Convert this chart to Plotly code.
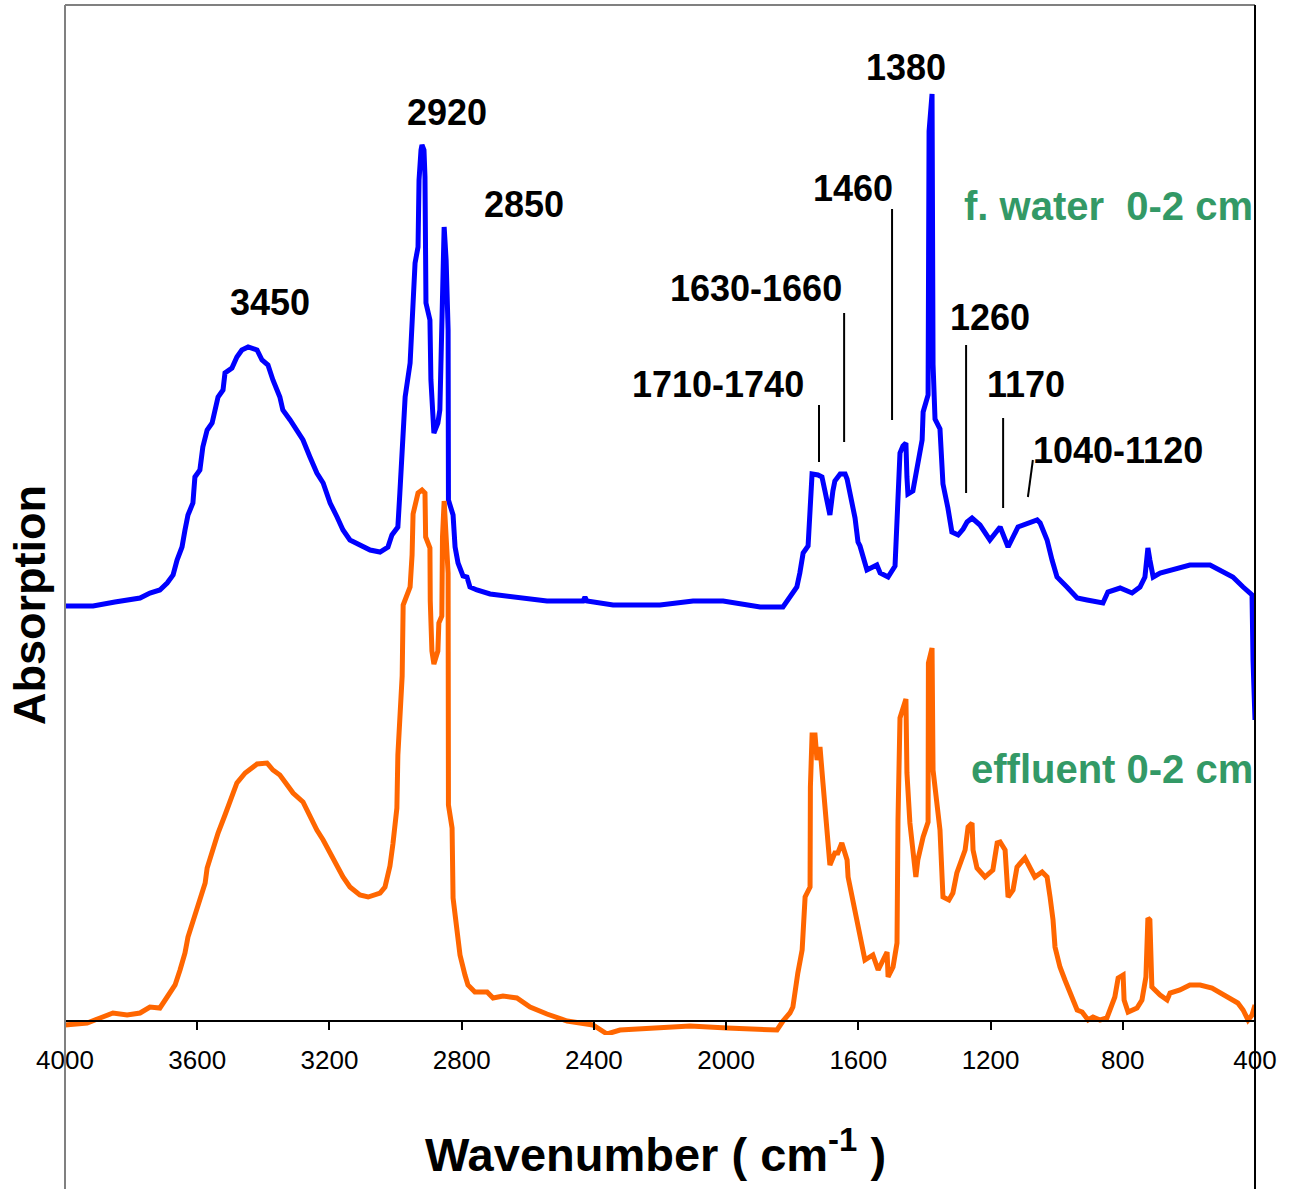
import plotly.graph_objects as go

# ---- Data (wavenumber in cm-1, absorption in arbitrary units) ----
water_wn = [4000, 3915, 3849, 3773, 3743, 3713, 3691, 3673, 3661, 3646, 3637, 3628, 3613, 3607,
            3592, 3583, 3570, 3555, 3546, 3537, 3522, 3516, 3495, 3480, 3465, 3446, 3419, 3404,
            3386, 3371, 3350, 3341, 3319, 3298, 3280, 3259, 3238, 3219, 3198, 3177, 3159, 3138,
            3108, 3077, 3047, 3023, 3011, 2993, 2987, 2980, 2971, 2956, 2950, 2941, 2932, 2929,
            2923, 2920, 2914, 2911, 2908, 2896, 2893, 2887, 2884, 2878, 2872, 2866, 2860, 2853,
            2847, 2844, 2841, 2840, 2826, 2820, 2811, 2796, 2784, 2775, 2754, 2714, 2624, 2542,
            2433, 2427, 2421, 2342, 2200, 2100, 2009, 1937, 1897, 1828, 1807, 1786, 1777, 1767,
            1752, 1746, 1740, 1722, 1710, 1701, 1686, 1677, 1671, 1655, 1640, 1634, 1625, 1610,
            1601, 1595, 1574, 1544, 1534, 1510, 1489, 1480, 1474, 1465, 1456, 1453, 1450, 1435,
            1420, 1407, 1404, 1389, 1386, 1377, 1374, 1368, 1353, 1347, 1344, 1329, 1317, 1298,
            1283, 1271, 1256, 1232, 1202, 1171, 1147, 1117, 1059, 1050, 1029, 1014, 999, 969,
            938, 908, 860, 845, 808, 772, 748, 733, 724, 718, 708, 687, 648, 597, 536, 497, 467,
            436, 409, 406, 400]
water_abs = [415, 415, 419, 423, 428, 431, 438, 446, 461, 474, 491, 506, 518, 544,
             551, 574, 591, 598, 611, 624, 631, 648, 653, 664, 671, 674, 671, 661,
             656, 641, 624, 611, 601, 591, 581, 564, 548, 538, 518, 504, 491, 481,
             476, 471, 469, 474, 486, 494, 528, 571, 624, 658, 691, 758, 774, 841,
             871, 876, 871, 844, 718, 701, 641, 598, 588, 593, 598, 611, 708, 794,
             761, 718, 691, 521, 506, 474, 458, 445, 444, 434, 431, 427, 423, 420,
             420, 424, 420, 416, 416, 420, 420, 416, 414, 414, 424, 434, 448, 468,
             475, 516, 547, 546, 544, 530, 506, 530, 540, 547, 547, 542, 527, 503,
             479, 475, 451, 456, 448, 444, 455, 510, 568, 575, 578, 544, 527, 530,
             561, 581, 609, 626, 890, 927, 657, 602, 592, 564, 537, 513, 489, 486,
             492, 499, 503, 496, 481, 494, 474, 494, 501, 498, 481, 461, 444, 434,
             423, 421, 418, 429, 433, 428, 434, 444, 473, 461, 444, 448, 451, 456, 456, 449, 444,
             434, 426, 361, 301]

effluent_wn = [4000, 3933, 3894, 3855, 3812, 3773, 3743, 3713, 3691, 3667, 3652, 3637, 3628, 3613,
               3601, 3586, 3576, 3570, 3552, 3537, 3516, 3501, 3480, 3455, 3419, 3389, 3371, 3350,
               3328, 3310, 3280, 3265, 3238, 3219, 3198, 3177, 3159, 3138, 3108, 3083, 3047, 3032,
               3026, 3017, 3008, 2996, 2993, 2980, 2977, 2956, 2950, 2947, 2932, 2920, 2911, 2909,
               2896, 2895, 2890, 2884, 2872, 2869, 2860, 2858, 2853, 2841, 2840, 2829, 2826, 2814,
               2805, 2790, 2781, 2760, 2723, 2705, 2675, 2633, 2593, 2542, 2481, 2403, 2360, 2321,
               2109, 1997, 1846, 1828, 1807, 1798, 1792, 1783, 1770, 1761, 1746, 1745, 1740, 1731,
               1725, 1716, 1707, 1695, 1686, 1671, 1662, 1650, 1634, 1631, 1616, 1601, 1580, 1556,
               1540, 1513, 1510, 1495, 1483, 1480, 1474, 1456, 1453, 1444, 1435, 1426, 1420, 1404,
               1389, 1388, 1377, 1374, 1353, 1347, 1344, 1326, 1314, 1302, 1286, 1277, 1268, 1256,
               1253, 1241, 1217, 1193, 1180, 1171, 1156, 1150, 1147, 1132, 1120, 1096, 1081, 1066,
               1044, 1029, 1020, 1011, 1005, 990, 975, 954, 938, 923, 905, 890, 869, 848, 839, 824,
               814, 799, 796, 784, 757, 742, 730, 727, 724, 718, 715, 712, 687, 666, 657, 627, 597,
               566, 530, 506, 476, 452, 436, 421, 409, 400]
effluent_abs = [-4, -2, 3, 8, 6, 8, 14, 13, 24, 36, 51, 68, 84, 99,
                111, 124, 138, 153, 174, 188, 206, 219, 238, 248, 257, 258, 251, 246,
                236, 228, 219, 208, 191, 181, 168, 154, 144, 134, 126, 124, 128, 134,
                141, 155, 177, 213, 266, 345, 416, 434, 466, 507, 528, 531, 528, 484,
                473, 420, 370, 357, 370, 398, 405, 484, 520, 448, 216, 193, 123, 87,
                66, 46, 36, 29, 29, 23, 25, 23, 14, 7, 0, -4, -13, -9,
                -5, -7, -9, 0, 8, 14, 31, 48, 71, 124, 134, 234, 286, 286,
                261, 274, 238, 191, 156, 168, 168, 178, 161, 144, 121, 94, 61, 66,
                51, 69, 44, 54, 78, 201, 303, 322, 248, 198, 173, 144, 161, 184,
                199, 358, 373, 251, 191, 154, 124, 121, 128, 148, 161, 171, 194, 198,
                171, 153, 144, 151, 178, 179, 171, 144, 124, 131, 154, 163, 153, 144,
                149, 144, 124, 101, 74, 54, 41, 24, 11, 9, 1, 4, 1, 3, 11, 24,
                43, 46, 21, 9, 13, 21, 44, 81, 103, 101, 71, 34, 26, 21, 28, 31, 36,
                36, 33, 28, 23, 18, 11, 1, 6, 16]

tick_vals = [4000, 3600, 3200, 2800, 2400, 2000, 1600, 1200, 800, 400]

# peak labels: text, wavenumber, level
peak_labels = ["3450", "2920", "2850", "1380", "1460", "1630-1660", "1710-1740",
               "1260", "1170", "1040-1120"]
peak_label_x = [3380, 2844, 2611, 1456, 1616, 1910, 2024, 1202, 1093, 814]
peak_label_y = [719, 909, 817, 954, 833, 733, 637, 704, 637, 571]

# pointer lines: (x0, y0, x1, y1) in data units
pointer_x0 = [1719, 1643, 1498, 1274, 1162, 1072]
pointer_y0 = [616, 708, 812, 676, 603, 561]
pointer_x1 = [1719, 1643, 1498, 1274, 1162, 1087]
pointer_y1 = [559, 579, 601, 528, 513, 524]

series_names = ["f. water  0-2 cm", "effluent 0-2 cm"]
series_label_y = [815, 252]

BLUE = "#0000FF"
ORANGE = "#FF6600"
GREEN = "#339966"
FONT = "Liberation Sans, Arial, sans-serif"

fig = go.Figure()
fig.add_trace(go.Scatter(x=water_wn, y=water_abs, mode="lines",
                         line=dict(color=BLUE, width=5), name=series_names[0]))
fig.add_trace(go.Scatter(x=effluent_wn, y=effluent_abs, mode="lines",
                         line=dict(color=ORANGE, width=5), name=series_names[1]))

annotations = []
for t, x, y in zip(peak_labels, peak_label_x, peak_label_y):
    annotations.append(dict(text=t, x=x, y=y, xref="x", yref="y", showarrow=False,
                            xanchor="center", yanchor="middle",
                            font=dict(family=FONT, size=36, color="black", weight="bold")))
for t, y in zip(series_names, series_label_y):
    annotations.append(dict(text=t.replace("  ", "&nbsp; "), x=1.0, y=y, xref="paper", yref="y",
                            showarrow=False, xanchor="right", yanchor="middle",
                            font=dict(family=FONT, size=40, color=GREEN, weight="bold")))
# axis titles
annotations.append(dict(text="Wavenumber ( cm<sup>-1</sup> )", x=0.4966, y=-0.113,
                        xref="paper", yref="paper", showarrow=False,
                        xanchor="center", yanchor="middle",
                        font=dict(family=FONT, size=47, color="black", weight="bold")))
annotations.append(dict(text="Absorption", x=-0.0294, y=0.4175, xref="paper", yref="paper",
                        showarrow=False, textangle=-90, xanchor="center", yanchor="middle",
                        font=dict(family=FONT, size=45, color="black", weight="bold")))

shapes = []
for x0, y0, x1, y1 in zip(pointer_x0, pointer_y0, pointer_x1, pointer_y1):
    shapes.append(dict(type="line", xref="x", yref="y", x0=x0, y0=y0, x1=x1, y1=y1,
                       line=dict(color="black", width=2)))
# outer frame
shapes.append(dict(type="line", xref="paper", yref="paper", x0=0, y0=1, x1=0, y1=-0.16,
                   line=dict(color="#808080", width=2)))
shapes.append(dict(type="line", xref="paper", yref="paper", x0=0, y0=1, x1=1, y1=1,
                   line=dict(color="#808080", width=2)))
shapes.append(dict(type="line", xref="paper", yref="paper", x0=1, y0=1, x1=1, y1=-0.16,
                   line=dict(color="black", width=2)))

fig.update_layout(
    width=1292, height=1189,
    margin=dict(l=65, r=37, t=5, b=154),
    paper_bgcolor="white", plot_bgcolor="white",
    showlegend=False,
    annotations=annotations,
    shapes=shapes,
    xaxis=dict(range=[4000, 400], tickvals=tick_vals, ticks="outside", ticklen=8,
               tickcolor="black", tickwidth=1.5, showline=True, linecolor="black", linewidth=2,
               showgrid=False, zeroline=False, anchor="free", position=14 / 1030,
               ticklabelstandoff=8,
               tickfont=dict(family=FONT, size=26, color="black")),
    yaxis=dict(range=[-14, 1016], visible=False, showgrid=False, zeroline=False),
)

fig.write_html("out.html", config={"displayModeBar": False},
               post_script="document.body.style.margin='0';")
